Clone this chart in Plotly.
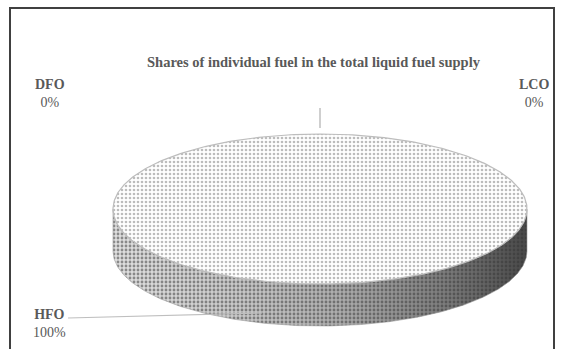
import numpy as np
import plotly.graph_objects as go

# Fuel shares in the total liquid fuel supply (percent)
fuels = ["DFO", "LCO", "HFO"]
shares = [0, 0, 100]

W, H = 564, 349
TEXT = "#595959"
FONT = "Liberation Serif, Times New Roman, serif"

# Geometry of the tilted disc (in pixel units of the figure)
cx, cy = 320, 209
rx, ry = 207, 75
depth = 42


def top_point(t_deg):
    t = np.radians(t_deg)
    return cx + rx * np.cos(t), cy - ry * np.sin(t)


fig = go.Figure()

total = sum(shares)
start = 90.0  # slices begin at 12 o'clock and run clockwise
slices = []
for name, val in zip(fuels, shares):
    sweep = 360.0 * val / total
    slices.append((name, val, start, start - sweep))
    start -= sweep

for name, val, a0, a1 in slices:
    if val == 0:
        continue
    # side wall: front (lower) part of the slice rim
    lo, hi = min(a0, a1), max(a0, a1)
    ts = np.linspace(lo, hi, 400)
    ts_rad = np.radians(ts)
    front = np.sin(ts_rad) <= 0
    tf = ts_rad[front]
    if tf.size:
        xs_top = cx + rx * np.cos(tf)
        ys_top = cy - ry * np.sin(tf)
        xs = np.concatenate([xs_top, xs_top[::-1]])
        ys = np.concatenate([ys_top, ys_top[::-1] + depth])
        xs = np.append(xs, xs[0])
        ys = np.append(ys, ys[0])
        fig.add_trace(go.Scatter(
            x=xs, y=ys, mode="lines", fill="toself",
            line=dict(color="rgba(0,0,0,0)", width=0),
            fillgradient=dict(
                type="horizontal",
                colorscale=[[0, "#e0e0e0"], [0.3, "#c8c8c8"], [0.55, "#acacac"],
                            [0.8, "#7c7c7c"], [1, "#484848"]]),
            hoverinfo="skip", showlegend=False))
        fig.add_trace(go.Scatter(
            x=xs, y=ys, mode="lines", fill="toself",
            fillcolor="rgba(0,0,0,0)",
            fillpattern=dict(shape=".", size=4, solidity=0.4,
                             fgcolor="#333333", bgcolor="rgba(0,0,0,0)"),
            line=dict(color="#9a9a9a", width=0.6),
            hoverinfo="skip", showlegend=False))

    # top face of the slice
    tt = np.radians(np.linspace(a0, a1, 400))
    xt = cx + rx * np.cos(tt)
    yt = cy - ry * np.sin(tt)
    if abs(a1 - a0) < 359.999:
        xt = np.concatenate([[cx], xt, [cx]])
        yt = np.concatenate([[cy], yt, [cy]])
    fig.add_trace(go.Scatter(
        x=xt, y=yt, mode="lines", fill="toself",
        fillcolor="white",
        fillpattern=dict(shape=".", size=4, solidity=0.35,
                         fgcolor="#7a7a7a", bgcolor="white"),
        line=dict(color="#bdbdbd", width=1.2),
        hoverinfo="skip", showlegend=False))

# Leader line for the zero-width slices at 12 o'clock
zx, zy = top_point(90)
fig.add_trace(go.Scatter(
    x=[zx, zx], y=[zy - 26, zy - 6], mode="lines",
    line=dict(color="#bfbfbf", width=1.5),
    hoverinfo="skip", showlegend=False))

# Leader line for HFO
fig.add_trace(go.Scatter(
    x=[68, 262], y=[318, 313], mode="lines",
    line=dict(color="#bfbfbf", width=1.2),
    hoverinfo="skip", showlegend=False))

label_pos = {"DFO": (50, 93), "LCO": (534, 93), "HFO": (49, 323)}
annotations = []
for name, val in zip(fuels, shares):
    lx, ly = label_pos[name]
    annotations.append(dict(
        x=lx, y=ly, xref="x", yref="y", showarrow=False, align="center",
        text=f"<b>{name}</b><br>{val}%",
        font=dict(family=FONT, size=14, color=TEXT)))

annotations.append(dict(
    x=314, y=62, xref="x", yref="y", showarrow=False,
    text="<b>Shares of individual fuel in the total liquid fuel supply</b>",
    font=dict(family=FONT, size=14.5, color=TEXT)))

fig.update_layout(
    width=W, height=H,
    margin=dict(l=0, r=0, t=0, b=0),
    paper_bgcolor="white", plot_bgcolor="white",
    xaxis=dict(range=[0, W], visible=False, fixedrange=True),
    yaxis=dict(range=[H, 0], visible=False, fixedrange=True),
    annotations=annotations,
    shapes=[dict(type="rect", xref="paper", yref="paper",
                 x0=10 / W, x1=554 / W, y0=-0.1, y1=1 - 8 / H,
                 line=dict(color="#404040", width=2), layer="above")],
)

fig.write_html("out.html")
